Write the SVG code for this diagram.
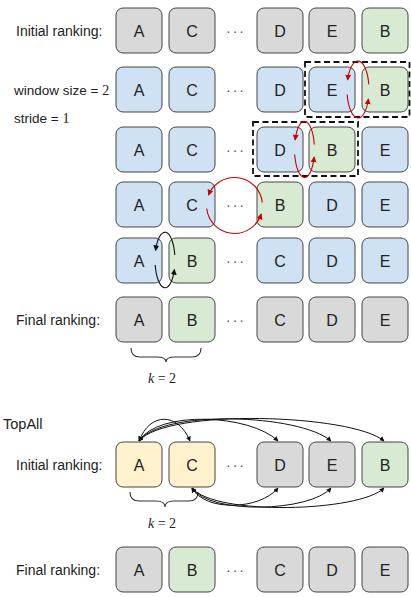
<svg xmlns="http://www.w3.org/2000/svg" width="411" height="597" viewBox="0 0 411 597">
<style>
.n rect{stroke:#454545;stroke-width:1}
.g rect{fill:#d9d9d9}
.bl rect{fill:#cfe2f3}
.gr rect{fill:#d9ead3}
.y rect{fill:#fff2cc}
.n text{font-family:"Liberation Sans",Arial,sans-serif;font-size:16px;fill:#222;text-anchor:middle}
.lbl{font-family:"Liberation Sans",Arial,sans-serif;font-size:13.5px;fill:#222}
.rk{font-size:14px}
.math{font-family:"Liberation Serif","Times New Roman",serif;font-size:14px;fill:#222}
.dots{font-family:"Liberation Sans",Arial,sans-serif;font-size:14px;fill:#555;text-anchor:middle;letter-spacing:2px}
.dash{fill:none;stroke:#111;stroke-width:1.8;stroke-dasharray:6 3.5}
.red{fill:none;stroke:#cc0000;stroke-width:1.1;marker-end:url(#mr)}
.blk{fill:none;stroke:#111;stroke-width:1.1;marker-end:url(#mb)}
.two{fill:none;stroke:#111;stroke-width:1;marker-start:url(#mb2);marker-end:url(#mb2)}
.brace{fill:none;stroke:#333;stroke-width:1.1}
</style>
<defs>
<marker id="mr" viewBox="0 0 8 8" refX="7" refY="4" markerWidth="6" markerHeight="6" markerUnits="userSpaceOnUse" orient="auto"><path d="M0,0 L8,4 L0,8 z" fill="#cc0000"/></marker>
<marker id="mb" viewBox="0 0 8 8" refX="7" refY="4" markerWidth="6" markerHeight="6" markerUnits="userSpaceOnUse" orient="auto"><path d="M0,0 L8,4 L0,8 z" fill="#111"/></marker>
<marker id="mb2" viewBox="0 0 8 8" refX="7" refY="4" markerWidth="5" markerHeight="5" markerUnits="userSpaceOnUse" orient="auto-start-reverse"><path d="M0,0 L8,4 L0,8 z" fill="#111"/></marker>
</defs>

<!-- labels -->
<text class="lbl rk" x="16" y="36">Initial ranking:</text>
<text class="lbl" x="14" y="94.5">window size = <tspan class="math">2</tspan></text>
<text class="lbl" x="14" y="123">stride = <tspan class="math">1</tspan></text>
<text class="lbl rk" x="16" y="325">Final ranking:</text>
<text class="lbl" x="3" y="429" style="font-size:14.5px">TopAll</text>
<text class="lbl rk" x="16" y="470">Initial ranking:</text>
<text class="lbl rk" x="16" y="575">Final ranking:</text>

<!-- dots -->
<text class="dots" x="236" y="36">···</text>
<text class="dots" x="236" y="95">···</text>
<text class="dots" x="236" y="155">···</text>
<text class="dots" x="236" y="210">···</text>
<text class="dots" x="236" y="266">···</text>
<text class="dots" x="236" y="325">···</text>
<text class="dots" x="236" y="470">···</text>
<text class="dots" x="236" y="575">···</text>

<!-- row 1 -->
<g id="r1-A" class="n g"><rect x="116" y="8" width="46" height="45" rx="7"/><text x="139" y="36.5">A</text></g>
<g id="r1-C" class="n g"><rect x="169" y="8" width="46" height="45" rx="7"/><text x="192" y="36.5">C</text></g>
<g id="r1-D" class="n g"><rect x="257" y="8" width="46" height="45" rx="7"/><text x="280" y="36.5">D</text></g>
<g id="r1-E" class="n g"><rect x="309" y="8" width="46" height="45" rx="7"/><text x="332" y="36.5">E</text></g>
<g id="r1-B" class="n gr"><rect x="362" y="8" width="46" height="45" rx="7"/><text x="385" y="36.5">B</text></g>

<!-- row 2 -->
<g id="r2-A" class="n bl"><rect x="116" y="67" width="46" height="45" rx="7"/><text x="139" y="95.5">A</text></g>
<g id="r2-C" class="n bl"><rect x="169" y="67" width="46" height="45" rx="7"/><text x="192" y="95.5">C</text></g>
<g id="r2-D" class="n bl"><rect x="257" y="67" width="46" height="45" rx="7"/><text x="280" y="95.5">D</text></g>
<g id="r2-E" class="n bl"><rect x="309" y="67" width="46" height="45" rx="7"/><text x="332" y="95.5">E</text></g>
<g id="r2-B" class="n gr"><rect x="362" y="67" width="46" height="45" rx="7"/><text x="385" y="95.5">B</text></g>

<!-- row 3 -->
<g id="r3-A" class="n bl"><rect x="116" y="127" width="46" height="45" rx="7"/><text x="139" y="155.5">A</text></g>
<g id="r3-C" class="n bl"><rect x="169" y="127" width="46" height="45" rx="7"/><text x="192" y="155.5">C</text></g>
<g id="r3-D" class="n bl"><rect x="257" y="127" width="46" height="45" rx="7"/><text x="280" y="155.5">D</text></g>
<g id="r3-B" class="n gr"><rect x="309" y="127" width="46" height="45" rx="7"/><text x="332" y="155.5">B</text></g>
<g id="r3-E" class="n bl"><rect x="362" y="127" width="46" height="45" rx="7"/><text x="385" y="155.5">E</text></g>

<!-- row 4 -->
<g id="r4-A" class="n bl"><rect x="116" y="182" width="46" height="45" rx="7"/><text x="139" y="210.5">A</text></g>
<g id="r4-C" class="n bl"><rect x="169" y="182" width="46" height="45" rx="7"/><text x="192" y="210.5">C</text></g>
<g id="r4-B" class="n gr"><rect x="257" y="182" width="46" height="45" rx="7"/><text x="280" y="210.5">B</text></g>
<g id="r4-D" class="n bl"><rect x="309" y="182" width="46" height="45" rx="7"/><text x="332" y="210.5">D</text></g>
<g id="r4-E" class="n bl"><rect x="362" y="182" width="46" height="45" rx="7"/><text x="385" y="210.5">E</text></g>

<!-- row 5 -->
<g id="r5-A" class="n bl"><rect x="116" y="238" width="46" height="45" rx="7"/><text x="139" y="266.5">A</text></g>
<g id="r5-B" class="n gr"><rect x="169" y="238" width="46" height="45" rx="7"/><text x="192" y="266.5">B</text></g>
<g id="r5-C" class="n bl"><rect x="257" y="238" width="46" height="45" rx="7"/><text x="280" y="266.5">C</text></g>
<g id="r5-D" class="n bl"><rect x="309" y="238" width="46" height="45" rx="7"/><text x="332" y="266.5">D</text></g>
<g id="r5-E" class="n bl"><rect x="362" y="238" width="46" height="45" rx="7"/><text x="385" y="266.5">E</text></g>

<!-- row 6 final -->
<g id="r6-A" class="n g"><rect x="116" y="297" width="46" height="45" rx="7"/><text x="139" y="325.5">A</text></g>
<g id="r6-B" class="n gr"><rect x="169" y="297" width="46" height="45" rx="7"/><text x="192" y="325.5">B</text></g>
<g id="r6-C" class="n g"><rect x="257" y="297" width="46" height="45" rx="7"/><text x="280" y="325.5">C</text></g>
<g id="r6-D" class="n g"><rect x="309" y="297" width="46" height="45" rx="7"/><text x="332" y="325.5">D</text></g>
<g id="r6-E" class="n g"><rect x="362" y="297" width="46" height="45" rx="7"/><text x="385" y="325.5">E</text></g>

<!-- TopAll initial -->
<g id="t1-A" class="n y"><rect x="116" y="442" width="46" height="45" rx="7"/><text x="139" y="470.5">A</text></g>
<g id="t1-C" class="n y"><rect x="169" y="442" width="46" height="45" rx="7"/><text x="192" y="470.5">C</text></g>
<g id="t1-D" class="n g"><rect x="257" y="442" width="46" height="45" rx="7"/><text x="280" y="470.5">D</text></g>
<g id="t1-E" class="n g"><rect x="309" y="442" width="46" height="45" rx="7"/><text x="332" y="470.5">E</text></g>
<g id="t1-B" class="n gr"><rect x="362" y="442" width="46" height="45" rx="7"/><text x="385" y="470.5">B</text></g>

<!-- TopAll final -->
<g id="t2-A" class="n g"><rect x="116" y="547" width="46" height="45" rx="7"/><text x="139" y="575.5">A</text></g>
<g id="t2-B" class="n gr"><rect x="169" y="547" width="46" height="45" rx="7"/><text x="192" y="575.5">B</text></g>
<g id="t2-C" class="n g"><rect x="257" y="547" width="46" height="45" rx="7"/><text x="280" y="575.5">C</text></g>
<g id="t2-D" class="n g"><rect x="309" y="547" width="46" height="45" rx="7"/><text x="332" y="575.5">D</text></g>
<g id="t2-E" class="n g"><rect x="362" y="547" width="46" height="45" rx="7"/><text x="385" y="575.5">E</text></g>

<!-- windows -->
<g id="windows">
<rect class="dash" x="305" y="62" width="104.5" height="55"/>
<rect class="dash" x="253" y="122" width="105" height="54"/>
</g>

<!-- braces -->
<g id="braces">
<path class="brace" d="M131,348 Q131,357 140,357 L157,357 Q166,357 166,362 Q166,357 175,357 L192,357 Q201,357 201,348"/>
<text class="math" x="162" y="383" text-anchor="middle"><tspan font-style="italic">k</tspan> = 2</text>
<path class="brace" d="M130,492 Q130,501 139,501 L156,501 Q165,501 165,507 Q165,501 174,501 L189,501 Q198,501 198,492"/>
<text class="math" x="162" y="528" text-anchor="middle"><tspan font-style="italic">k</tspan> = 2</text>
</g>

<!-- connectors -->
<g id="connectors">
<path class="red" d="M368.8,84.5 A11,28.5 0 0 0 347.6,80"/>
<path class="red" d="M347.2,94.5 A11,28.5 0 0 0 368.4,99"/>
<path class="red" d="M314.3,144.5 A10,28.5 0 0 0 295.1,140"/>
<path class="red" d="M294.7,154.5 A10,28.5 0 0 0 314.1,157"/>
<path class="red" d="M262.3,202.5 A28,28 0 0 0 208.5,195"/>
<path class="red" d="M206.7,208.5 A28,28 0 0 0 261.2,214"/>
<path class="blk" d="M174.8,255 A10,28 0 0 0 155.6,250.5"/>
<path class="blk" d="M155.2,265 A10,28 0 0 0 174.4,269.5"/>

<path class="two" d="M139,441 C150,412 178,412 190,441"/>
<path class="two" d="M139,441 C158,410 250,414 278,441"/>
<path class="two" d="M139,441 C162,409 300,414 331,441"/>
<path class="two" d="M139,441 C166,408 352,414 384,441"/>

<path class="two" d="M192,488 C205,512 260,510 278,488"/>
<path class="two" d="M192,488 C210,515 310,512 331,488"/>
<path class="two" d="M192,488 C215,516 360,512 384,488"/>
</g>
</svg>
